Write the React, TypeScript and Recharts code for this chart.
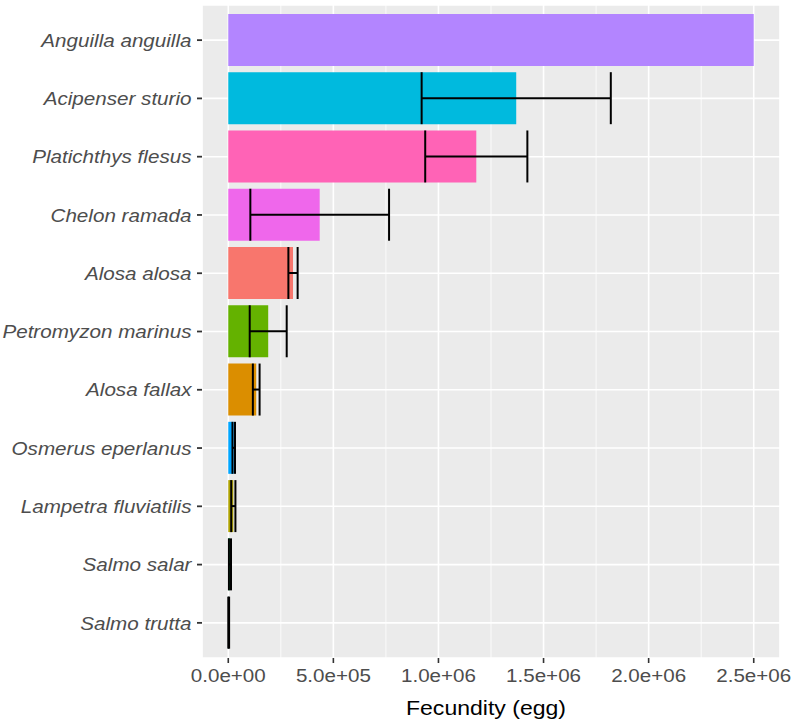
import {
  BarChart,
  Bar,
  XAxis,
  YAxis,
  Cell,
  CartesianGrid,
  ErrorBar,
  Label,
} from "recharts";

// species, top to bottom
const SPECIES = [
  "Anguilla anguilla",
  "Acipenser sturio",
  "Platichthys flesus",
  "Chelon ramada",
  "Alosa alosa",
  "Petromyzon marinus",
  "Alosa fallax",
  "Osmerus eperlanus",
  "Lampetra fluviatilis",
  "Salmo salar",
  "Salmo trutta",
];

// mean fecundity (eggs)
const FECUNDITY = [
  2500000, 1370000, 1180000, 435000, 308000, 190000, 133000, 26000, 24000,
  8000, 2000,
];

// standard deviation, null = no error bar
const FECUNDITY_SD: (number | null)[] = [
  null, 450000, 243000, 330000, 22000, 88000, 16000, 6000, 10000, 5000, 2000,
];

// ggplot hue palette as it was mapped to species
const COLORS = [
  "#B385FF",
  "#00BADE",
  "#FF63B6",
  "#EF67EB",
  "#F8766D",
  "#64B200",
  "#DB8E00",
  "#00A6FF",
  "#AEA200",
  "#00BD5C",
  "#00C1A7",
];

const MAJOR_TICKS = [0, 500000, 1000000, 1500000, 2000000, 2500000];
const MINOR_TICKS = [250000, 750000, 1250000, 1750000, 2250000];
const X_DOMAIN = [-125000, 2625000];

const FONT = "'Liberation Sans', Arial, Helvetica, sans-serif";
const STRETCH = 1.17; // source image is a bit wider than tall
const LABEL_STRETCH = 1.11;

function sci(v: number): string {
  if (v === 0) return "0.0e+00";
  const exp = Math.floor(Math.log10(Math.abs(v)));
  const mant = (v / Math.pow(10, exp)).toFixed(1);
  const sign = exp < 0 ? "-" : "+";
  return `${mant}e${sign}${String(Math.abs(exp)).padStart(2, "0")}`;
}

const data = SPECIES.map((name, i) => ({
  species: name,
  fecundity: FECUNDITY[i],
  sd: FECUNDITY_SD[i] === null ? null : [FECUNDITY_SD[i], FECUNDITY_SD[i]],
}));

export default function App() {
  return (
    <div style={{ position: "absolute", left: 0, top: 0, background: "#fff" }}>
      <BarChart
        width={795}
        height={724}
        data={data}
        layout="vertical"
        margin={{ top: 5, right: 15, left: 0, bottom: 0 }}
        barCategoryGap="5%"
      >
        <CartesianGrid
          fill="#EBEBEB"
          stroke="#FFFFFF"
          strokeWidth={1.6}
          strokeDasharray=""
        />
        {/* minor vertical grid from a hidden axis */}
        <CartesianGrid
          xAxisId="minor"
          horizontal={false}
          stroke="#FFFFFF"
          strokeWidth={0.8}
          strokeDasharray=""
        />
        <XAxis
          xAxisId="minor"
          type="number"
          domain={X_DOMAIN}
          allowDataOverflow
          ticks={MINOR_TICKS}
          hide
        />
        <XAxis
          type="number"
          domain={X_DOMAIN}
          allowDataOverflow
          ticks={MAJOR_TICKS}
          height={66}
          tickSize={5}
          tickMargin={6}
          axisLine={false}
          tickLine={{ stroke: "#333333", strokeWidth: 1.6 }}
          tick={(props: any) => {
            const { x, y, payload } = props;
            return (
              <g transform={`translate(${x},${y}) scale(${STRETCH},1)`}>
                <text
                  x={0}
                  y={0}
                  dy="0.71em"
                  textAnchor="middle"
                  fill="#4D4D4D"
                  fontSize={17.6}
                  fontFamily={FONT}
                >
                  {sci(payload.value)}
                </text>
              </g>
            );
          }}
        >
          <Label
            content={(props: any) => {
              const { x, y, width, height } = props.viewBox;
              return (
                <g
                  transform={`translate(${x + width / 2 - 5},${
                    y + height - 9
                  }) scale(${STRETCH},1)`}
                >
                  <text
                    x={0}
                    y={0}
                    textAnchor="middle"
                    fill="#000000"
                    fontSize={19.7}
                    fontFamily={FONT}
                  >
                    Fecundity (egg)
                  </text>
                </g>
              );
            }}
          />
        </XAxis>
        <YAxis
          type="category"
          dataKey="species"
          width={202}
          tickSize={5}
          tickMargin={5.5}
          padding={{ top: 6, bottom: 6 }}
          axisLine={false}
          tickLine={{ stroke: "#333333", strokeWidth: 1.8 }}
          interval={0}
          tick={(props: any) => {
            const { x, y, payload } = props;
            return (
              <g transform={`translate(${x},${y}) scale(${LABEL_STRETCH},1)`}>
                <text
                  x={0}
                  y={0}
                  dy="0.36em"
                  textAnchor="end"
                  fill="#4D4D4D"
                  fontSize={18.6}
                  fontStyle="italic"
                  fontFamily={FONT}
                >
                  {payload.value}
                </text>
              </g>
            );
          }}
        />
        <Bar dataKey="fecundity" isAnimationActive={false}>
          {data.map((entry, idx) => (
            <Cell key={`cell-${idx}`} fill={COLORS[idx]} />
          ))}
          <ErrorBar
            dataKey="sd"
            direction="x"
            width={26}
            stroke="#000000"
            strokeWidth={2}
            isAnimationActive={false}
          />
        </Bar>
      </BarChart>
    </div>
  );
}
